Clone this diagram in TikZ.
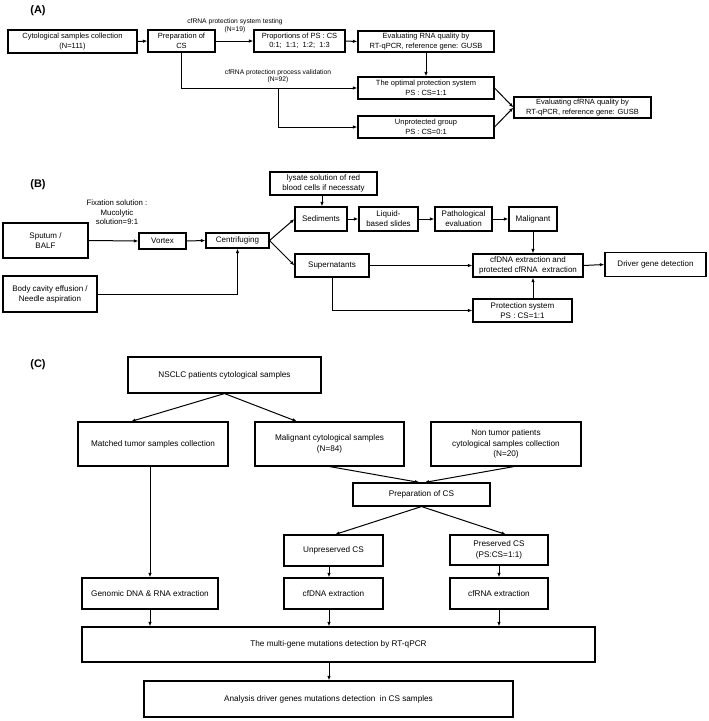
\documentclass[tikz,border=0pt]{standalone}
\usepackage{fontspec}
\setmainfont{Liberation Sans}
\usetikzlibrary{arrows.meta,calc}
\begin{document}
\begin{tikzpicture}[x=1pt,y=-1pt,
  box/.style={draw, line width=1.1pt, align=center, inner sep=0pt, font=\fontsize{7.5}{9.5}\selectfont},
  boxb/.style={box, font=\fontsize{8}{10}\selectfont},
  boxc/.style={box, font=\fontsize{8.2}{10.5}\selectfont},
  lbl/.style={align=center, inner sep=0pt, font=\fontsize{6.7}{7.5}\selectfont},
  panel/.style={inner sep=0pt, font=\fontsize{11}{12}\selectfont\bfseries},
  arr/.style={line width=1pt, -{Latex[length=4.5pt,width=3.4pt]}},
  ln/.style={line width=1pt}]
\useasboundingbox (0,0) rectangle (709,721);

% ---------------- Panel A ----------------
\node[panel] (pA) at (38,11) {(A)};
\node[box, minimum width=129pt, minimum height=23pt] (a1) at (72.5,41.5) {Cytological samples collection\\(N=111)};
\node[box, minimum width=67pt, minimum height=22pt] (a2) at (181.5,41) {Preparation of\\CS};
\node[box, minimum width=91pt, minimum height=22pt] (a3) at (299.5,41) {Proportions of PS : CS\\0:1;\ \ 1:1;\ \ 1:2;\ \ 1:3};
\node[box, minimum width=136pt, minimum height=21pt] (a4) at (426,41.5) {Evaluating RNA quality by\\RT-qPCR, reference gene: GUSB};
\node[box, minimum width=136pt, minimum height=22pt] (a5) at (426,88) {The optimal protection system\\PS : CS=1:1};
\node[box, minimum width=136pt, minimum height=22pt] (a6) at (426,127) {Unprotected group\\PS : CS=0:1};
\node[box, minimum width=137pt, minimum height=21pt] (a7) at (582.5,107.5) {Evaluating cfRNA quality by\\RT-qPCR, reference gene: GUSB};
\node[lbl] (la1) at (235,26) {cfRNA protection system testing\\(N=19)};
\node[lbl] (la2) at (278,76.5) {cfRNA protection process validation\\(N=92)};
\coordinate (abr) at (278,88);

\draw[arr] (a1.east) -- (a2.west);
\draw[arr] (a2.east) -- (a3.west);
\draw[arr] (a3.east) -- (a4.west);
\draw[arr] (a4.south) -- (a5.north);
\draw[arr] (a2.south) |- (a5.west);
\draw[arr] (abr) |- (a6.west);
\draw[arr] (a6.east) -- (a7.west);
\draw[arr] (a5.east) -- (a7.west);

% ---------------- Panel B ----------------
\node[panel] (pB) at (38,185) {(B)};
\node[boxb, minimum width=85pt, minimum height=35pt] (bsp) at (45.5,240.5) {Sputum /\\BALF};
\node[boxb, minimum width=94pt, minimum height=36pt] (bbody) at (50,294) {Body cavity effusion /\\Needle aspiration};
\node[boxb, minimum width=47pt, minimum height=16pt] (bvor) at (162.5,241) {Vortex};
\node[boxb, minimum width=63pt, minimum height=15pt] (bcen) at (237.5,240.5) {Centrifuging};
\node[boxb, minimum width=52pt, minimum height=24pt] (bsed) at (321,219) {Sediments};
\node[boxb, minimum width=74pt, minimum height=23pt] (bsup) at (332,265.5) {Supernatants};
\node[boxb, minimum width=107pt, minimum height=23pt] (blys) at (323.5,183.5) {lysate solution of red\\blood cells if necessaty};
\node[boxb, minimum width=59pt, minimum height=24pt] (bliq) at (388.5,219) {Liquid-\\based slides};
\node[boxb, minimum width=57pt, minimum height=24pt] (bpath) at (463.5,219) {Pathological\\evaluation};
\node[boxb, minimum width=48pt, minimum height=24pt] (bmal) at (533,219) {Malignant};
\node[boxb, minimum width=110pt, minimum height=23pt] (bcf) at (528,265.5) {cfDNA extraction and\\protected cfRNA\ \ extraction};
\node[boxb, minimum width=101pt, minimum height=24pt] (bdrv) at (655.5,264.5) {Driver gene detection};
\node[boxb, minimum width=99pt, minimum height=23pt] (bprot) at (522.5,310.5) {Protection system\\PS : CS=1:1};
\node[lbl, font=\fontsize{7.8}{9.5}\selectfont] (lb1) at (117,212.5) {Fixation solution :\\Mucolytic\\solution=9:1};

\draw[arr] (bsp.east) -- (bvor.west);
\draw[arr] (bvor.east) -- (bcen.west);
\draw[arr] (bbody.east) -| (bcen.south);
\draw[arr] (bcen.east) -- (bsed.west);
\draw[arr] (bcen.east) -- (bsup.west);
\draw[arr] ([xshift=-1.5pt]blys.south) -- ([xshift=-1.5pt]blys.south |- bsed.north);
\draw[arr] (bsed.east) -- (bliq.west);
\draw[arr] (bliq.east) -- (bpath.west);
\draw[arr] (bpath.east) -- (bmal.west);
\draw[arr] (bmal.south) -- (bmal.south |- bcf.north);
\draw[arr] (bsup.east) -- (bcf.west);
\draw[arr] (bcf.east) -- (bdrv.west);
\draw[arr] (bsup.south) |- (bprot.west);
\draw[arr] (bprot.north -| bmal.south) -- (bcf.south -| bmal.south);

% ---------------- Panel C ----------------
\node[panel] (pC) at (38,365) {(C)};
\node[boxc, minimum width=193pt, minimum height=36pt] (cns) at (224.5,375) {NSCLC patients cytological samples};
\node[boxc, minimum width=150pt, minimum height=44pt] (cmt) at (153,444) {Matched tumor samples collection};
\node[boxc, minimum width=149pt, minimum height=44pt] (cmal) at (329.5,444) {Malignant cytological samples\\(N=84)};
\node[boxc, minimum width=150pt, minimum height=44pt] (cnon) at (506,444) {Non tumor patients\\cytological samples collection\\(N=20)};
\node[boxc, minimum width=137pt, minimum height=23pt] (cprep) at (421.5,494.5) {Preparation of CS};
\node[boxc, minimum width=99pt, minimum height=31pt] (cunp) at (333.5,550.5) {Unpreserved CS};
\node[boxc, minimum width=98pt, minimum height=30pt] (cpres) at (499,550) {Preserved CS\\(PS:CS=1:1)};
\node[boxc, minimum width=136pt, minimum height=31pt] (cgen) at (150,593.5) {Genomic DNA \& RNA extraction};
\node[boxc, minimum width=99pt, minimum height=31pt] (ccfd) at (333.5,593.5) {cfDNA extraction};
\node[boxc, minimum width=98pt, minimum height=31pt] (ccfr) at (499,593.5) {cfRNA extraction};
\node[boxc, minimum width=513pt, minimum height=35pt] (cmul) at (338.5,644.5) {The multi-gene mutations detection by RT-qPCR};
\node[boxc, minimum width=369pt, minimum height=36pt] (cana) at (328.5,699) {Analysis driver genes mutations detection\ \ in CS samples};

\draw[arr] (cns.south) -- ([xshift=-22pt]cmt.north);
\draw[arr] (cns.south) -- ([xshift=-32.5pt]cmal.north);
\draw[arr] (cmal.south) -- ([xshift=-2pt]cprep.north);
\draw[arr] ([xshift=8pt]cnon.south) -- ([xshift=3pt]cprep.north);
\draw[arr] ([xshift=-3pt]cmt.south) -- (cgen.north);
\draw[arr] (cprep.south) -- ([xshift=1.5pt]cunp.north);
\draw[arr] (cprep.south) -- ([xshift=7pt]cpres.north);
\draw[arr] ([xshift=-4.5pt]cunp.south) -- ([xshift=-4.5pt]ccfd.north);
\draw[arr] (cpres.south) -- (ccfr.north);
\draw[arr] (cgen.south) -- (cgen.south |- cmul.north);
\draw[arr] ([xshift=-4.5pt]ccfd.south) -- ([xshift=-4.5pt]ccfd.south |- cmul.north);
\draw[arr] (ccfr.south) -- (ccfr.south |- cmul.north);
\draw[arr] ([xshift=-9.5pt]cmul.south) -- ([xshift=-9.5pt]cmul.south |- cana.north);
\end{tikzpicture}
\end{document}
